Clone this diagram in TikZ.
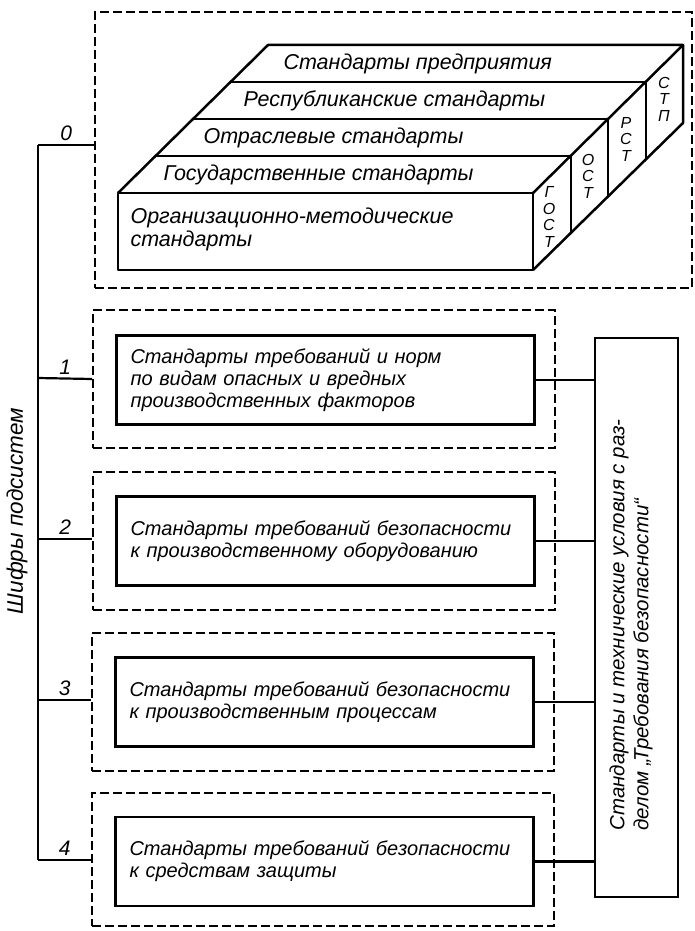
\documentclass[tikz,border=0pt]{standalone}
\usepackage{fontspec}
\setmainfont{Liberation Sans}
\begin{document}
\begin{tikzpicture}[x=1pt,y=-1pt,
  font=\itshape\fontsize{20}{22}\selectfont,
  dbox/.style={draw, dash pattern=on 9pt off 4pt, line width=1.6pt, minimum width=462pt, minimum height=138pt, inner sep=0pt},
  sbox/.style={draw, line width=2.6pt, text width=390pt, inner xsep=14pt, inner ysep=0pt, align=left, minimum height=89pt},
  conn/.style={line width=2.2pt},
  lbl/.style={above, inner sep=3pt, font=\itshape\fontsize{21}{22}\selectfont},
  blk/.style={line width=2.5pt, line join=round},
  big/.style={font=\itshape\fontsize{21.5}{23}\selectfont},
  stack/.style={align=center, inner sep=0pt, font=\itshape\fontsize{16}{16.5}\selectfont}
]
\useasboundingbox (0,0) rectangle (695,931);

% top dashed frame
\node[dbox, minimum width=597pt, minimum height=276pt] (top) at (393.5,150) {};

% 3D block of standards
\draw[blk] (118,193) rectangle (533,270);
\draw[blk] (118,193) -- (268,45) -- (683,45) -- (533,193);
\draw[blk] (683,45) -- (683,123) -- (533,270);
\foreach \k in {1,2,3} {
  \draw[line width=2pt] ({118+37.5*\k},{193-37*\k}) -- ({533+37.5*\k},{193-37*\k});
  \draw[line width=2pt] ({533+37.5*\k},{193-37*\k}) -- ({533+37.5*\k},{270-36.75*\k});
}
\node[big, anchor=west] (s0) at (160,174.5) {Государственные стандарты};
\node[big, anchor=west] (s1) at (200,137.5) {Отраслевые стандарты};
\node[big, anchor=west] (s2) at (240,100.5) {Республиканские стандарты};
\node[big, anchor=west] (s3) at (280,63.5) {Стандарты предприятия};
\node[big, anchor=west, align=left] (om) at (127,229) {Организационно-методические\\стандарты};
\node[stack] (gost) at (549,217) {Г\\О\\С\\Т};
\node[stack] (ost) at (588,176) {О\\С\\Т};
\node[stack] (rst) at (626,139) {Р\\С\\Т};
\node[stack] (stp) at (664,99) {С\\Т\\П};

% subsystem frames
\node[dbox] (d1) at (324,379) {};
\node[sbox] (b1) at (325.5,380) {Стандарты требований и норм\\по видам опасных и вредных\\производственных факторов};
\node[dbox] (d2) at (324,541) {};
\node[sbox] (b2) at (325.5,541) {Стандарты требований безопасности\\к производственному оборудованию};
\node[dbox] (d3) at (323,702) {};
\node[sbox] (b3) at (324.5,702) {Стандарты требований безопасности\\к производственным процессам};
\node[dbox, minimum height=133pt] (d4) at (323,859.5) {};
\node[sbox] (b4) at (324.5,861.5) {Стандарты требований безопасности\\к средствам защиты};

% right box
\node[draw, line width=2.6pt, minimum width=83pt, minimum height=559pt, inner sep=0pt] (rb) at (636.5,617.5) {};
\node[rotate=90, align=left, inner sep=0pt, font=\itshape\fontsize{20.5}{24}\selectfont] (rbt) at (631,625) {Стандарты и технические условия с раз-\\делом „Требования безопасности“};

\foreach \b in {b1,b2,b3,b4}
  \draw[conn] (\b.east) -- (\b.east -| rb.west);

% left bus
\coordinate (bus0) at (38,145);
\coordinate (bus4) at (38,860);
\draw[conn] (bus0) -- (bus4);
\draw[conn] (bus0) -- node[lbl] {0} (bus0 -| top.west);
\draw[conn] (38,378) -- node[lbl] {1} (d1.west);
\draw[conn] (38,539) -- node[lbl] {2} (d2.west |- 0,539);
\draw[conn] (38,700) -- node[lbl] {3} (d3.west |- 0,700);
\draw[conn] (bus4) -- node[lbl] {4} (d4.west |- bus4);

\node[rotate=90, inner sep=0pt, font=\itshape\fontsize{22.5}{24}\selectfont] (cap) at (17,511) {Шифры подсистем};
\end{tikzpicture}
\end{document}
